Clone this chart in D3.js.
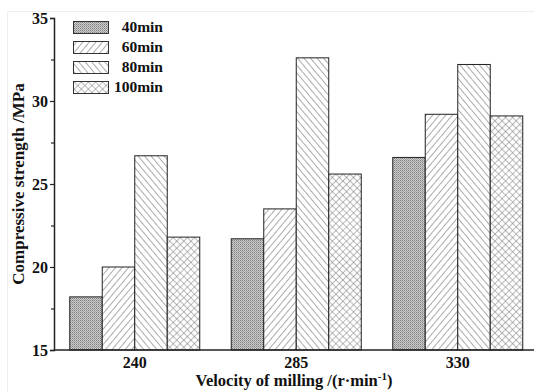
<!DOCTYPE html>
<html><head><meta charset="utf-8">
<script src="https://cdn.jsdelivr.net/npm/d3@7"></script>
<style>body{margin:0;background:#fff}svg{display:block}text{font-family:"Liberation Serif","Times New Roman",serif;font-weight:bold;fill:#111}</style>
</head><body>
<script>
const categories = ["240","285","330"];
const seriesNames = ["40min","60min","80min","100min"];
const s40 = [18.2, 21.7, 26.6];
const s60 = [20.0, 23.5, 29.2];
const s80 = [26.7, 32.6, 32.2];
const s100 = [21.8, 25.6, 29.1];
const seriesValues = [s40, s60, s80, s100];
const yTicks = [15, 20, 25, 30, 35];
const yMinor = [17.5, 22.5, 27.5, 32.5];

const W = 534, H = 392;
const svg = d3.select("body").append("svg").attr("width", W).attr("height", H);
const defs = svg.append("defs");

// patterns
const p0 = defs.append("pattern").attr("id","pat0").attr("patternUnits","userSpaceOnUse").attr("width",2).attr("height",2);
p0.append("rect").attr("width",2).attr("height",2).attr("fill","#cccccc");
p0.append("rect").attr("width",1).attr("height",1).attr("fill","#808080");
p0.append("rect").attr("x",1).attr("y",1).attr("width",1).attr("height",1).attr("fill","#a0a0a0");

function linePat(id, angle){
  const p = defs.append("pattern").attr("id",id).attr("patternUnits","userSpaceOnUse").attr("width",5).attr("height",5).attr("patternTransform",`rotate(${angle})`);
  p.append("rect").attr("width",5).attr("height",5).attr("fill","#fff");
  p.append("line").attr("x1",0).attr("y1",0).attr("x2",0).attr("y2",5).attr("stroke","#666").attr("stroke-width",1.1);
}
linePat("pat1", 40);
linePat("pat2", -40);
const p3 = defs.append("pattern").attr("id","pat3").attr("patternUnits","userSpaceOnUse").attr("width",5).attr("height",5).attr("patternTransform","rotate(45)");
p3.append("rect").attr("width",5).attr("height",5).attr("fill","#fff");
p3.append("line").attr("x1",0).attr("y1",0).attr("x2",0).attr("y2",5).attr("stroke","#777").attr("stroke-width",1);
p3.append("line").attr("x1",0).attr("y1",0).attr("x2",5).attr("y2",0).attr("stroke","#777").attr("stroke-width",1);
const fills = ["url(#pat0)","url(#pat1)","url(#pat2)","url(#pat3)"];

// faint image border
svg.append("rect").attr("x",7.5).attr("y",11.5).attr("width",540).attr("height",400).attr("fill","none").attr("stroke","#eee");

const x0 = d3.scaleBand().domain(categories).range([54, 538.5]).paddingInner(0.195).paddingOuter(0.0975);
const x1 = d3.scaleBand().domain(seriesNames).range([0, x0.bandwidth()]);
const y = d3.scaleLinear().domain([15, 35]).range([350, 18]);

const g = svg.append("g");
categories.forEach((c, ci) => {
  seriesNames.forEach((s, si) => {
    const v = seriesValues[si][ci];
    g.append("rect")
      .attr("x", x0(c) + x1(s))
      .attr("y", y(v))
      .attr("width", x1.bandwidth())
      .attr("height", y(15) - y(v))
      .attr("fill", fills[si])
      .attr("stroke", "#222").attr("stroke-width", 1);
  });
});

// axes
const yAxis = svg.append("g").attr("transform","translate(54,0)")
  .call(d3.axisLeft(y).tickValues(yTicks).tickSize(4).tickPadding(2).tickFormat(d3.format("d")));
svg.append("g").attr("transform","translate(54,0)")
  .call(d3.axisLeft(y).tickValues(yMinor).tickSize(3).tickFormat(""))
  .call(g2 => g2.select(".domain").remove());
yAxis.selectAll("text").style("font-size","16px").attr("fill","#111");
svg.selectAll(".tick line").attr("stroke","#222").attr("stroke-width",1.2);
yAxis.select(".domain").attr("stroke","#222").attr("stroke-width",1.5);

const xAxis = svg.append("g").attr("transform","translate(0,350)")
  .call(d3.axisBottom(x0).tickSize(0).tickPadding(7));
xAxis.select(".domain").attr("d","M54,0H534").attr("stroke","#222").attr("stroke-width",1.5);
xAxis.selectAll("text").style("font-size","16px").attr("fill","#111");

// axis titles
const xt = svg.append("text").attr("x", 294).attr("y", 386).attr("text-anchor","middle").style("font-size","16.5px");
xt.append("tspan").text("Velocity of milling /(r\u00b7min");
xt.append("tspan").attr("dy",-6).style("font-size","11px").text("-1");
xt.append("tspan").attr("dy",6).text(")");

svg.append("text").attr("transform","translate(24,184) rotate(-90)").attr("text-anchor","middle")
  .style("font-size","17px").text("Compressive strength /MPa");

// legend
const lg = svg.append("g");
seriesNames.forEach((s, i) => {
  const yy = 21 + i * 20;
  lg.append("rect").attr("x",73.5).attr("y",yy+0.5).attr("width",35).attr("height",12)
    .attr("fill",fills[i]).attr("stroke","#333").attr("stroke-width",1);
  lg.append("text").attr("x",163).attr("y",yy+11).attr("text-anchor","end").style("font-size","15.5px").text(s);
});
</script>
</body></html>
